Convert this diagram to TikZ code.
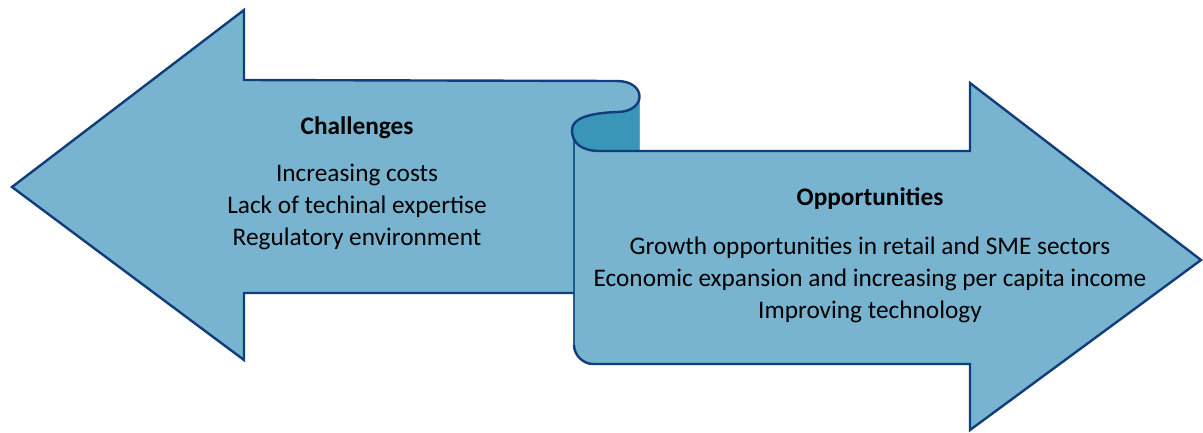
\documentclass[tikz,border=0pt]{standalone}
\usepackage{fontspec}
\setmainfont{Carlito}
\definecolor{ribbonfill}{HTML}{78B4D0}
\definecolor{ribbondark}{HTML}{3996B8}
\definecolor{ribbonline}{HTML}{123D7C}
\definecolor{edgeline}{HTML}{1B5F8C}
\tikzset{
  outline/.style={draw=ribbonline, line width=2.4pt, line join=miter},
  lbl/.style={font=\fontsize{25.3}{32}\selectfont, align=center, text=black, inner sep=0pt},
  ttl/.style={font=\fontsize{25.3}{32}\selectfont\bfseries, text=black, inner sep=0pt}
}
\begin{document}
\begin{tikzpicture}[x=1pt,y=-1pt]
\useasboundingbox (0,0) rectangle (1203,432);
% light body
\fill[ribbonfill] (244,80) -- (617,81) .. controls (632,81) and (639.5,88.75) .. (639.5,96.5)
  -- (639.5,151) -- (970,151) -- (970,83) -- (1201,260) -- (970,430) -- (970,364)
  -- (593,364) .. controls (583,364) and (574,355) .. (574,345) -- (574,293)
  -- (244,293) -- (244,360) -- (12,187) -- (244,10) -- cycle;
% dark back of the curl
\fill[ribbondark] (639.5,96.5) .. controls (639.5,104.25) and (632,112) .. (617,112)
  .. controls (590,113) and (572,118) .. (572,130)
  .. controls (572,142) and (580,151) .. (600,151) -- (639.5,151) -- cycle;
% left edge of the right arrow
\draw[draw=edgeline, line width=2.2pt] (574,140) -- (574,346);
% main outline
\draw[outline] (574,293) -- (244,293) -- (244,360) -- (12,187) -- (244,10) -- (244,80)
  -- (617,81) .. controls (647,81) and (647,112) .. (617,112)
  .. controls (590,113) and (572,118) .. (572,130)
  .. controls (572,142) and (580,151) .. (600,151) -- (970,151) -- (970,83)
  -- (1201,260) -- (970,430) -- (970,364) -- (593,364)
  .. controls (583,364) and (574,355) .. (574,345);
% texts
\node[ttl] (chal) at (357,128) {Challenges};
\node[lbl] (chalitems) at (357,207) {Increasing costs\\Lack of techinal expertise\\Regulatory environment};
\node[ttl] (opp) at (870,199) {Opportunities};
\node[lbl] (oppitems) at (870,279.5) {Growth opportunities in retail and SME sectors\\Economic expansion and increasing per capita income\\Improving technology};
\end{tikzpicture}
\end{document}
